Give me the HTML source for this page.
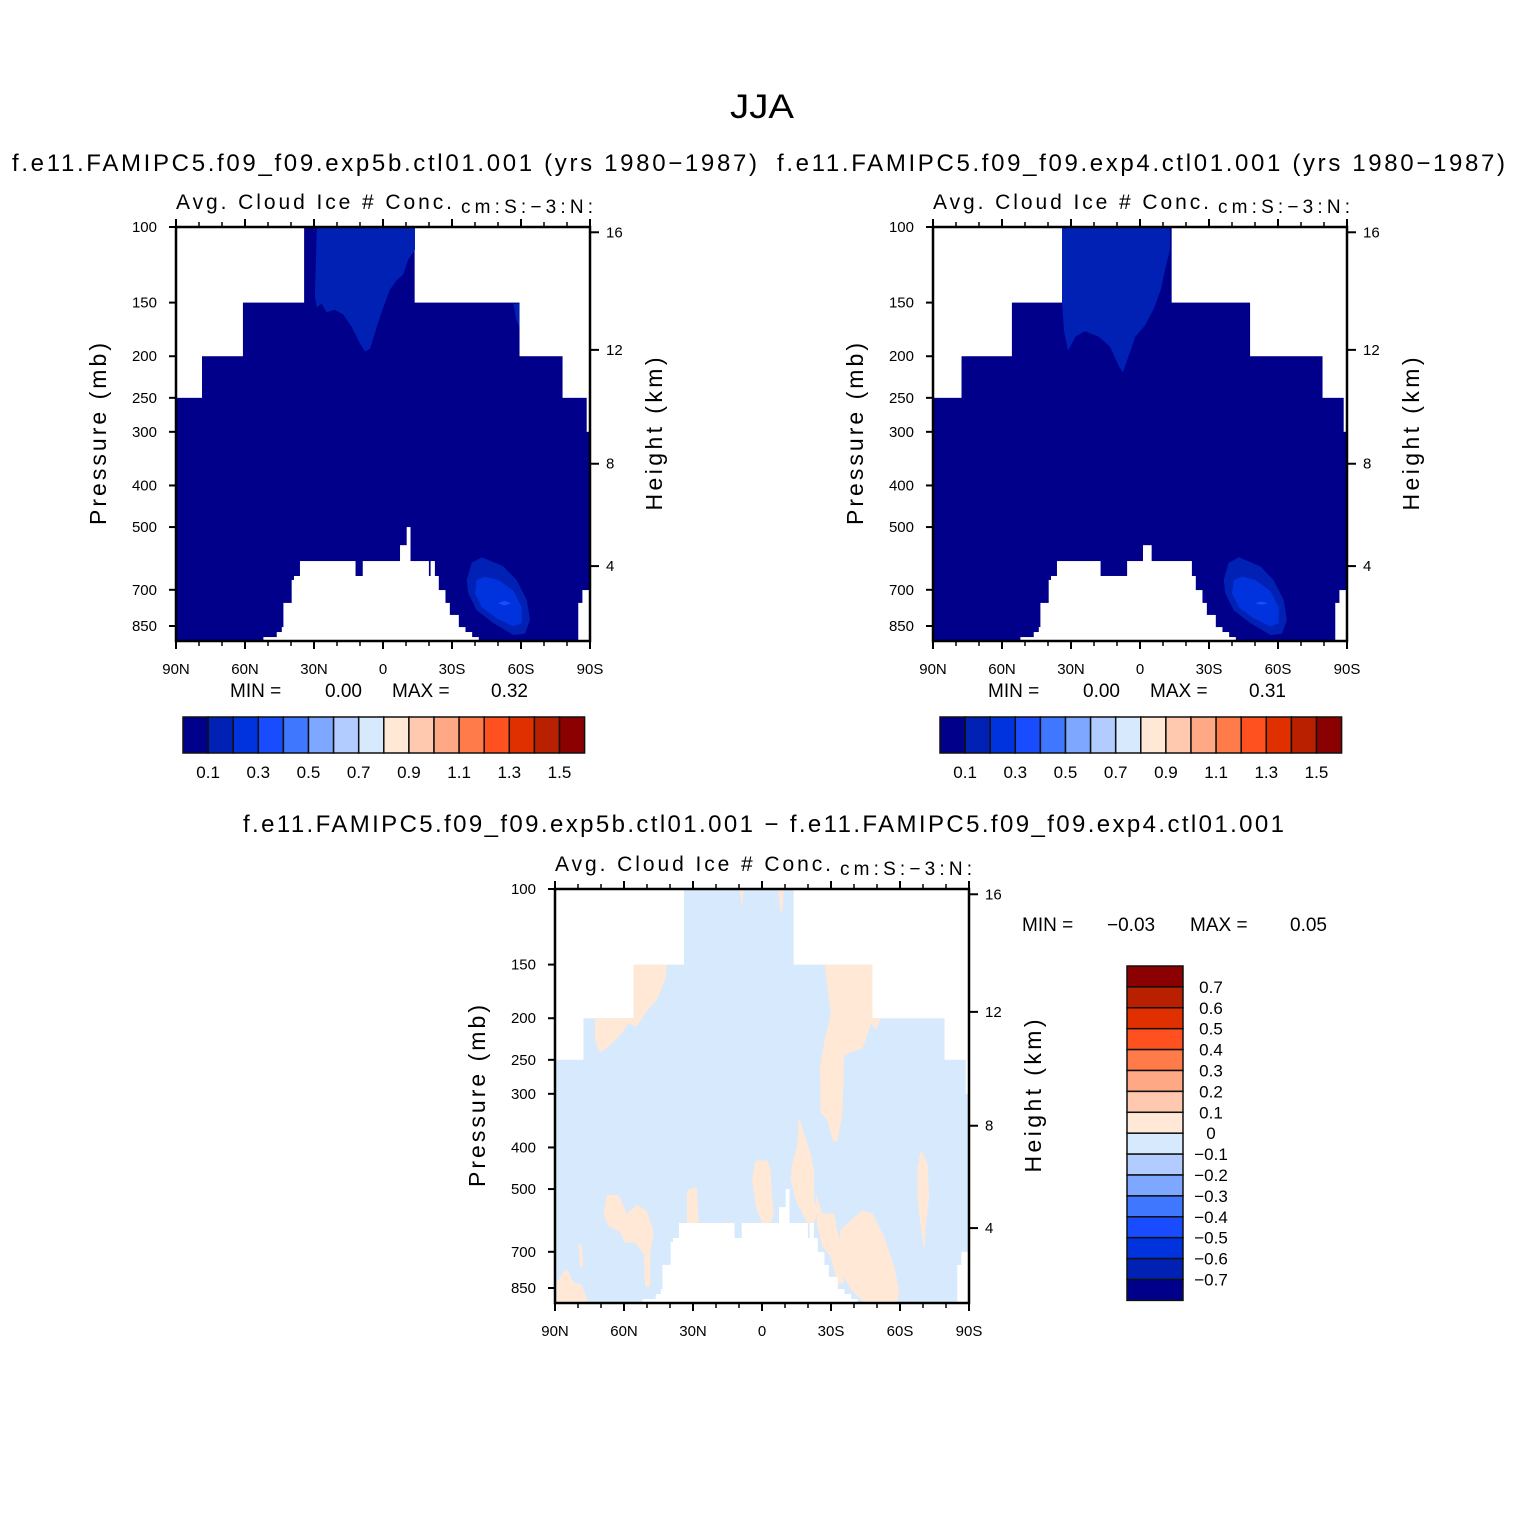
<!DOCTYPE html>
<html><head><meta charset="utf-8"><title>JJA Cloud Ice</title>
<style>
html,body{margin:0;padding:0;background:#fff;}
svg{display:block;font-family:"Liberation Sans","DejaVu Sans",sans-serif;}
</style></head>
<body>
<svg id="fig" xmlns="http://www.w3.org/2000/svg" width="1524" height="1524" viewBox="0 0 1524 1524">
<rect width="1524" height="1524" fill="#fff"/>
<text x="730" y="118" font-size="34" textLength="64" lengthAdjust="spacingAndGlyphs">JJA</text>
<text x="12" y="171" font-size="24" textLength="745" lengthAdjust="spacing">f.e11.FAMIPC5.f09_f09.exp5b.ctl01.001 (yrs 1980−1987)</text>
<text x="777" y="171" font-size="24" textLength="728" lengthAdjust="spacing">f.e11.FAMIPC5.f09_f09.exp4.ctl01.001 (yrs 1980−1987)</text>
<text x="243" y="832" font-size="24" textLength="1041" lengthAdjust="spacing">f.e11.FAMIPC5.f09_f09.exp5b.ctl01.001 − f.e11.FAMIPC5.f09_f09.exp4.ctl01.001</text>
<g id="layer"></g>
</svg>
<script>
// ---------- data ----------
const colors = ["#00008b","#0021b4","#0033dd","#1a4cff","#3f78ff","#7ea8ff","#b3ccff","#d6e9fd","#ffe8d6","#ffc9b0","#ffa885","#ff7c4a","#ff5020","#e03000","#b82000","#8b0000"];
const cbLabelsH = ["0.1","0.3","0.5","0.7","0.9","1.1","1.3","1.5"];
const cbLabelsV = ["0.7","0.6","0.5","0.4","0.3","0.2","0.1","0","−0.1","−0.2","−0.3","−0.4","−0.5","−0.6","−0.7"];
const pTicks = [100,150,200,250,300,400,500,700,850];
const zTicks = [4,8,12,16];
const latTicks = [90,60,30,0,-30,-60,-90];
const latTickLabels = ["90N","60N","30N","0","30S","60S","90S"];
const latMinor = [80,70,50,40,20,10,-10,-20,-40,-50,-70,-80];
const topStepsA = [[90,78.7,250],[78.7,60.9,200],[60.9,34.3,150],[34.3,-13.5,100],[-13.5,-59.1,150],[-59.1,-77.8,200],[-77.8,-88.3,250],[-88.3,-90,300]];
const topStepsB = [[90,77.6,250],[77.6,55.7,200],[55.7,33.9,150],[33.9,-13.5,100],[-13.5,-47.6,150],[-47.6,-79.1,200],[-79.1,-88.3,250],[-88.3,-90,300]];
const sfcA = [[52,46.2,902],[46.2,44,878],[44,43.3,855],[43.3,39.7,751],[39.7,38.7,664],[38.7,36.1,650],[36.1,12.2,600],[12.2,8.8,650],[8.8,-7.4,600],[-7.4,-10.3,551],[-10.3,-11.7,500],[-11.7,-19.7,600],[-19.7,-20.7,650],[-20.7,-22.3,600],[-22.3,-24,650],[-24,-26.9,701],[-26.9,-28.8,751],[-28.8,-32.7,801],[-32.7,-35.6,855],[-35.6,-38.5,878],[-38.5,-41.4,902],[-84.9,-86.7,751],[-86.7,-90,701]];
const sfcB = [[52,46.2,902],[46.2,44,878],[44,43.3,855],[43.3,39.7,751],[39.7,38.7,664],[38.7,36.1,650],[36.1,17.4,600],[17.4,5.6,650],[5.6,-1.3,600],[-1.3,-4.8,551],[-4.8,-19.7,600],[-19.7,-22.3,600],[-22.3,-24,650],[-24,-26.9,701],[-26.9,-28.8,751],[-28.8,-32.7,801],[-32.7,-35.6,855],[-35.6,-38.5,878],[-38.5,-41.4,902],[-84.9,-86.7,751],[-86.7,-90,701]];
const blobsA = [
 [1,[[28.8,100],[-13.9,100],[-13.9,113],[-11,119],[-8.8,129],[-5.9,133],[-3,140],[-0.1,154],[2.7,171],[5.6,192],[7.8,195],[10,187],[13.6,171],[17.2,160],[20.9,156],[24.5,158],[26.7,151],[28.8,154],[29.6,145]]],
 [1,[[-56.7,151],[-59.3,151],[-59.3,171],[-58,165]]],
 [1,[[-42.9,588],[-52.3,617],[-58.1,664],[-62.5,740],[-63.9,823],[-61.7,886],[-56.7,892],[-48,837],[-40.7,781],[-37.1,713],[-36.4,664],[-38.5,606]]],
 [2,[[-44.3,652],[-50.2,664],[-56.7,704],[-60.3,768],[-60.3,837],[-56.7,852],[-49.4,815],[-42.9,768],[-40,713],[-40.7,664]]],
 [3,[[-50,752],[-52.8,742],[-55.7,752],[-52.8,762]]]
];
const blobsB = [
 [1,[[33.9,100],[-13,100],[-13,113],[-11,125],[-9,140],[-6,155],[-2,170],[2,180],[5,200],[7.4,218],[9,212],[13,190],[18,180],[24,175],[28,180],[31.3,194],[33,175],[33.9,150]]],
 [1,[[-42.9,588],[-52.3,617],[-58.1,664],[-62.5,740],[-63.9,823],[-61.7,886],[-56.7,892],[-48,837],[-40.7,781],[-37.1,713],[-36.4,664],[-38.5,606]]],
 [2,[[-44.3,652],[-50.2,664],[-56.7,704],[-60.3,768],[-60.3,837],[-56.7,852],[-49.4,815],[-42.9,768],[-40,713],[-40.7,664]]],
 [3,[[-50,752],[-52.8,745],[-55.7,752],[-52.8,759]]]
];
const blobsD = [
 [8,[[55.9,150],[41.3,150],[42.1,163],[45.7,181],[50.8,195],[54.4,209],[58,206],[61.7,219],[66,231],[70.4,241],[72.6,225],[72.6,200],[55.9,200]]],
 [8,[[-27.2,150],[-48,150],[-48,200],[-51.6,200],[-49.5,213],[-47.3,206],[-45.1,225],[-43.7,235],[-38.6,240],[-35.7,245],[-35,333],[-32.8,388],[-30.6,385],[-28.4,345],[-25.5,333],[-25.2,259],[-26.9,229],[-29.9,195]]],
 [8,[[-43.7,561],[-48,570],[-53.1,645],[-57.5,759],[-59.6,857],[-58.9,918],[-44.4,918],[-38.6,857],[-35,786],[-32.8,707],[-34.2,621],[-38.6,591]]],
 [8,[[-16.1,339],[-18.2,371],[-21.1,412],[-22.6,451],[-22.6,521],[-24.1,570],[-22.6,600],[-19.7,600],[-17.5,570],[-14.6,530],[-12.4,474],[-13.1,435],[-15.3,398]]],
 [8,[[2.8,429],[-2.3,429],[-3.7,451],[-4.4,521],[-5.2,570],[-3.7,600],[-0.1,600],[2.8,549],[4.3,474]]],
 [8,[[67.5,516],[62.4,516],[58.8,570],[54.4,544],[50.1,561],[47.1,630],[48.6,707],[48.6,844],[50.8,844],[51.5,707],[55.1,667],[59.5,667],[61.7,630],[66.8,610],[69,570]]],
 [8,[[32.6,503],[28.3,494],[27.5,600],[32.6,600]]],
 [8,[[89.3,823],[84.9,764],[82,823],[78.4,837],[75.5,918],[89.3,918]]],
 [8,[[79.8,667],[78.4,675],[77.7,759],[79.1,759]]],
 [8,[[-69.1,405],[-72,435],[-72.7,521],[-71.3,600],[-70.5,698],[-69.1,621],[-67.6,521],[-67.6,443]]],
 [8,[[-23.3,512],[-26.2,570],[-31.3,570],[-34.2,681],[-35.7,823],[-32.8,837],[-29.9,719],[-26.2,681],[-24.1,610]]],
 [8,[[9.7,100],[7.9,100],[8.8,111]]],
 [8,[[-7,100],[-9.5,100],[-8.8,114],[-7.8,112]]]
];
const minmaxA = ["0.00","0.32"], minmaxB = ["0.00","0.31"], minmaxD = ["−0.03","0.05"];

// ---------- drawing ----------
const NS = "http://www.w3.org/2000/svg";
const layer = document.getElementById("layer");
const W = 414, PSC = 429.3;
function mk(tag, attrs, parent){
  const e = document.createElementNS(NS, tag);
  for (const k in attrs) e.setAttribute(k, attrs[k]);
  (parent||layer).appendChild(e); return e;
}
function zToP(km){ const z = km*1000; return z <= 11000 ? 1013.25*Math.pow(1-2.25577e-5*z,5.25588) : 226.32*Math.exp(-(z-11000)/6341.6); }

function panel(name, x0, y0, fillIdx, topSteps, sfc, blobs){
  const xs = lat => x0 + (90-lat)/180*W;
  const yp = p => y0 + Math.log10(p/100)*PSC;
  const yb = y0 + W;
  const g = mk("g", {});
  
  
  const cid = name + "-clip";
  const cp = mk("clipPath", {id: cid}, g);
  mk("rect", {x:x0, y:y0, width:W, height:W}, cp);
  const plot = mk("g", {"clip-path":"url(#"+cid+")"}, g);
  topSteps.forEach(s => {
    const r = mk("rect", {x:xs(s[0]), y:yp(s[2]), width:xs(s[1])-xs(s[0])+0.6, height:yb-yp(s[2]), fill:colors[fillIdx]}, plot);
    
    
  });
  blobs.forEach(b => {
    const pts = b[1].map(q => xs(q[0]).toFixed(1)+","+yp(q[1]).toFixed(1)).join(" ");
    const pg = mk("polygon", {points: pts, fill: colors[b[0]]}, plot);
    
    
  });
  sfc.forEach(s => {
    const r = mk("rect", {x:xs(s[0]), y:yp(s[2]), width:xs(s[1])-xs(s[0])+0.6, height:yb-yp(s[2])+2, fill:"#fff"}, plot);
    
    
  });
  mk("rect", {x:x0, y:y0, width:W, height:W, fill:"none", stroke:"#000", "stroke-width":2.5}, g);
  latTicks.forEach((lat,i) => {
    const x = xs(lat);
    mk("line", {x1:x, y1:yb, x2:x, y2:yb+8, stroke:"#000","stroke-width":2}, g);
    mk("line", {x1:x, y1:y0, x2:x, y2:y0-8, stroke:"#000","stroke-width":2}, g);
    const t = mk("text", {x:x, y:yb+33, "font-size":15, "text-anchor":"middle"}, g);
    t.textContent = latTickLabels[i];
    
    
  });
  latMinor.forEach(lat => {
    const x = xs(lat);
    mk("line", {x1:x, y1:yb, x2:x, y2:yb+5, stroke:"#000","stroke-width":1.5}, g);
    mk("line", {x1:x, y1:y0, x2:x, y2:y0-5, stroke:"#000","stroke-width":1.5}, g);
  });
  pTicks.forEach(p => {
    const y = yp(p);
    mk("line", {x1:x0-7, y1:y, x2:x0, y2:y, stroke:"#000","stroke-width":2}, g);
    const t = mk("text", {x:x0-19, y:y+5, "font-size":15, "text-anchor":"end"}, g);
    t.textContent = p;
    
    
  });
  zTicks.forEach(z => {
    const y = yp(zToP(z));
    mk("line", {x1:x0+W, y1:y, x2:x0+W+9, y2:y, stroke:"#000","stroke-width":2}, g);
    const t = mk("text", {x:x0+W+16, y:y+5, "font-size":15}, g);
    t.textContent = z;
    
    
  });
  const yl = mk("text", {x:0, y:0, "font-size":23, "text-anchor":"middle", textLength:182, lengthAdjust:"spacing", transform:"translate("+(x0-70)+","+(y0+W/2)+") rotate(-90)"}, g);
  yl.textContent = "Pressure (mb)";
  
  
  const hl = mk("text", {x:0, y:0, "font-size":23, "text-anchor":"middle", textLength:153, lengthAdjust:"spacing", transform:"translate("+(x0+W+72)+","+(y0+W/2)+") rotate(-90)"}, g);
  hl.textContent = "Height (km)";
  
  
  const lt = mk("text", {x:x0, y:y0-18, "font-size":21, textLength:276, lengthAdjust:"spacing"}, g);
  lt.textContent = "Avg. Cloud Ice # Conc.";
  
  
  const rt = mk("text", {x:x0+285, y:y0-14, "font-size":19, textLength:132, lengthAdjust:"spacing"}, g);
  rt.textContent = "cm:S:−3:N:";
  
  
}

function minmaxText(x, y, mm, name, shift){
  const g = mk("g", {});
  
  
  const parts = [["MIN =", x], [mm[0], x+ (shift?85:95)], ["MAX =", x+162+(shift?6:0)], [mm[1], x+261+(shift?7:0)]];
  parts.forEach(pp => {
    const t = mk("text", {x:pp[1], y:y, "font-size":19}, g);
    t.textContent = pp[0];
    
    
  });
}

function hbar(x0, y0, name){
  const g = mk("g", {});
  
  
  const bw = 25.1, bh = 36;
  colors.forEach((c,i) => {
    const r = mk("rect", {x:x0+i*bw, y:y0, width:bw, height:bh, fill:c, stroke:"#111","stroke-width":1.5}, g);
    
    
  });
  cbLabelsH.forEach((l,i) => {
    const t = mk("text", {x:x0+(2*i+1)*bw, y:y0+bh+25, "font-size":17, "text-anchor":"middle"}, g);
    t.textContent = l;
    
    
  });
}

function vbar(x0, y0, name){
  const g = mk("g", {});
  
  
  const bw = 56, bh = 20.9;
  colors.slice().reverse().forEach((c,i) => {
    const r = mk("rect", {x:x0, y:y0+i*bh, width:bw, height:bh, fill:c, stroke:"#111","stroke-width":1.5}, g);
    
    
  });
  cbLabelsV.forEach((l,i) => {
    const t = mk("text", {x:x0+84, y:y0+(i+1)*bh+6, "font-size":17, "text-anchor":"middle"}, g);
    t.textContent = l;
    
    
  });
}

panel("left-panel", 176, 227, 0, topStepsA, sfcA, blobsA);
panel("right-panel", 933, 227, 0, topStepsB, sfcB, blobsB);
panel("diff-panel", 555, 889, 7, topStepsB, sfcA, blobsD);
minmaxText(230, 697, minmaxA, "left-min-max", false);
minmaxText(988, 697, minmaxB, "right-min-max", false);
minmaxText(1022, 931, minmaxD, "diff-min-max", true);
hbar(183, 717, "left-colorbar");
hbar(940, 717, "right-colorbar");
vbar(1127, 966, "diff-colorbar");
</script>
</body></html>
